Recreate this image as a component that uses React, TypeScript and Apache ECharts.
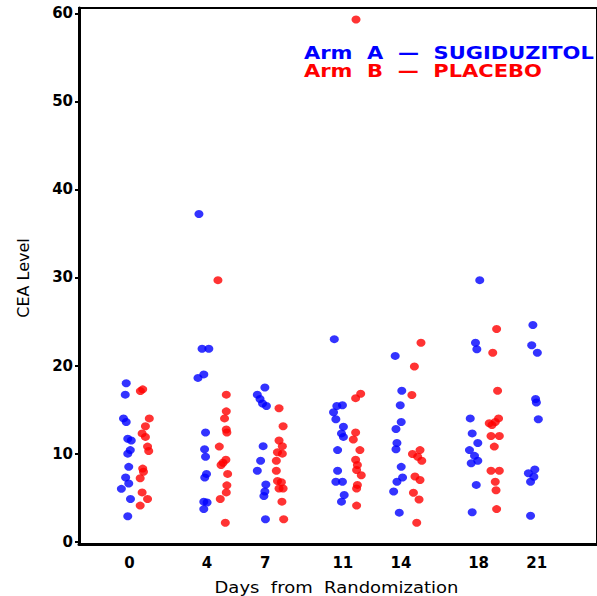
import React, { useEffect, useRef } from "react";
import * as echarts from "echarts";

const days = [0, 4, 7, 11, 14, 18, 21];
const yTicks = [0, 10, 20, 30, 40, 50, 60];

// Arm A (Sugiduzitol) CEA values per visit day, with horizontal jitter (in days)
const armAValues: number[][] = [
  [18.0, 16.7, 14.0, 13.6, 11.7, 11.5, 10.4, 10.0, 8.5, 7.3, 6.6, 6.0, 4.85, 2.9],
  [37.2, 21.9, 21.9, 19.0, 18.6, 12.4, 10.5, 9.65, 7.7, 7.3, 4.55, 4.45, 3.7],
  [17.5, 16.7, 16.2, 15.7, 15.4, 10.85, 9.2, 8.05, 6.5, 5.7, 5.2, 2.55],
  [23.0, 15.5, 15.4, 14.7, 13.9, 13.05, 12.3, 11.9, 10.4, 8.05, 6.8, 6.8, 5.3, 4.55],
  [21.1, 17.15, 15.5, 13.6, 12.8, 11.2, 10.5, 8.5, 7.3, 6.8, 5.7, 3.3],
  [29.7, 22.6, 21.85, 14.0, 12.3, 11.2, 10.4, 9.75, 9.2, 8.9, 6.45, 3.35],
  [24.6, 22.3, 21.45, 16.2, 15.8, 13.9, 8.2, 7.77, 7.38, 6.81, 2.95],
];
const armAJitter: number[][] = [
  [-0.17, -0.22, -0.31, -0.17, -0.09, 0.09, 0.04, -0.09, -0.04, -0.2, -0.04, -0.42, 0.05, -0.09],
  [-0.42, -0.26, 0.09, -0.17, -0.47, -0.08, -0.13, -0.08, -0.03, -0.12, -0.17, 0, -0.17],
  [-0.02, -0.41, -0.27, -0.14, 0.06, -0.11, -0.24, -0.41, 0.03, -0.02, -0.07, 0.01],
  [-0.44, -0.02, -0.31, -0.48, -0.36, 0.03, -0.07, 0.03, -0.27, -0.27, -0.36, -0.02, 0.07, -0.07],
  [-0.3, 0.04, -0.04, 0.01, -0.26, -0.21, -0.26, 0.01, 0.08, -0.21, -0.38, -0.09],
  [0.06, -0.16, -0.09, -0.43, -0.33, -0.04, -0.47, -0.21, -0.04, -0.38, -0.12, -0.33],
  [-0.2, -0.26, 0.03, -0.06, -0.02, 0.08, -0.1, -0.43, -0.15, -0.32, -0.32],
];

// Arm B (Placebo)
const armBValues: number[][] = [
  [17.3, 17.1, 14.0, 13.1, 12.3, 11.9, 10.8, 10.3, 8.3, 7.95, 7.2, 5.6, 4.85, 4.1],
  [29.7, 16.7, 14.8, 14.0, 12.75, 12.4, 10.8, 9.3, 8.97, 8.7, 7.7, 6.4, 5.6, 4.85, 2.15],
  [15.15, 13.1, 11.5, 10.85, 10.15, 10.0, 9.2, 8.05, 6.9, 6.75, 6.05, 6.05, 4.55, 2.55],
  [59.3, 16.8, 16.3, 12.4, 11.6, 10.4, 9.3, 8.7, 8.15, 7.55, 6.45, 6.05, 4.1],
  [22.6, 19.9, 16.65, 10.4, 9.95, 9.65, 9.2, 7.4, 7.0, 5.55, 4.8, 2.15],
  [24.15, 21.45, 17.15, 14.0, 13.6, 13.45, 13.25, 12.0, 12.0, 10.8, 8.05, 8.05, 6.8, 5.85, 3.7],
  [],
];
const armBJitter: number[][] = [
  [0.68, 0.56, 1.02, 0.82, 0.65, 0.82, 0.93, 0.99, 0.68, 0.72, 0.55, 0.65, 0.93, 0.55],
  [0.56, 0.99, 0.99, 0.9, 0.99, 1.02, 0.63, 0.97, 0.82, 0.72, 1.06, 1.02, 0.99, 0.68, 0.94],
  [0.71, 0.92, 0.71, 0.88, 0.63, 0.88, 0.57, 0.57, 0.63, 0.83, 0.71, 0.92, 0.86, 0.95],
  [0.68, 0.92, 0.66, 0.66, 0.54, 0.88, 0.66, 0.75, 0.71, 0.95, 0.75, 0.71, 0.71],
  [1.03, 0.69, 0.56, 0.98, 0.59, 0.86, 1.07, 0.72, 0.98, 0.64, 0.93, 0.81],
  [0.93, 0.73, 0.98, 1.03, 0.86, 0.55, 0.69, 0.64, 1.07, 0.81, 0.64, 1.07, 0.86, 0.9, 0.93],
  [],
];

const armALabel = "Arm\u00a0 A\u00a0 \u2014\u00a0 SUGIDUZITOL";
const armBLabel = "Arm\u00a0 B\u00a0 \u2014\u00a0 PLACEBO";
const xTitle = "Days\u00a0 from\u00a0 Randomization";
const yTitle = "CEA Level";

function buildPoints(values: number[][], jitter: number[][]): number[][] {
  const pts: number[][] = [];
  values.forEach((vals, i) => {
    vals.forEach((v, j) => {
      pts.push([days[i] + jitter[i][j], v]);
    });
  });
  return pts;
}

export default function App() {
  const ref = useRef<HTMLDivElement>(null);
  useEffect(() => {
    if (!ref.current) return;
    const chart = echarts.init(ref.current, undefined, { renderer: "svg" });
    const labelStyle = {
      color: "#000",
      fontFamily: "DejaVu Sans",
      fontWeight: "bold" as const,
      fontSize: 15,
    };
    chart.setOption({
      animation: false,
      backgroundColor: "#fff",
      grid: {
        left: 79,
        right: -5,
        top: 8,
        bottom: 52,
        show: true,
        borderColor: "#000",
        borderWidth: 2,
        backgroundColor: "transparent",
      },
      xAxis: {
        type: "value",
        min: -2.605,
        max: 24.106,
        axisLine: { show: true, onZero: false, lineStyle: { color: "#000", width: 3 } },
        axisTick: { show: false },
        splitLine: { show: false },
        axisLabel: { ...labelStyle, customValues: days, margin: 11 },
      },
      yAxis: {
        type: "value",
        min: -0.26,
        max: 60.6,
        axisLine: { show: true, onZero: false, lineStyle: { color: "#000", width: 3 } },
        axisTick: { show: true, customValues: yTicks, length: 4, lineStyle: { color: "#000", width: 2 } },
        splitLine: { show: false },
        axisLabel: { ...labelStyle, customValues: yTicks, margin: 6 },
      },
      series: [
        {
          type: "scatter",
          name: "Arm A",
          symbol: "circle",
          symbolSize: [9, 8],
          itemStyle: { color: "#0000ff" },
          data: buildPoints(armAValues, armAJitter),
        },
        {
          type: "scatter",
          name: "Arm B",
          symbol: "circle",
          symbolSize: [9, 8],
          itemStyle: { color: "#ff0000" },
          data: buildPoints(armBValues, armBJitter),
        },
      ],
      graphic: [
        {
          type: "text",
          x: 304,
          y: 53.5,
          scaleX: 1.167,
          style: {
            text: armALabel,
            fill: "#0000ff",
            fontFamily: "DejaVu Sans",
            fontWeight: "bold",
            fontSize: 18,
            textAlign: "left",
            textVerticalAlign: "middle",
          },
        },
        {
          type: "text",
          x: 304,
          y: 71,
          scaleX: 1.167,
          style: {
            text: armBLabel,
            fill: "#ff0000",
            fontFamily: "DejaVu Sans",
            fontWeight: "bold",
            fontSize: 18,
            textAlign: "left",
            textVerticalAlign: "middle",
          },
        },
        {
          type: "text",
          x: 336.5,
          y: 587,
          scaleX: 1.125,
          style: {
            text: xTitle,
            fill: "#000",
            fontFamily: "DejaVu Sans",
            fontSize: 16,
            textAlign: "center",
            textVerticalAlign: "middle",
          },
        },
        {
          type: "text",
          x: 23,
          y: 278,
          rotation: Math.PI / 2,
          style: {
            text: yTitle,
            fill: "#000",
            fontFamily: "DejaVu Sans",
            fontSize: 16,
            textAlign: "center",
            textVerticalAlign: "middle",
          },
        },
      ],
    });
    return () => chart.dispose();
  }, []);
  return (
    <div
      ref={ref}
      style={{ position: "fixed", left: 0, top: 0, width: 597, height: 596, background: "#fff" }}
    />
  );
}
